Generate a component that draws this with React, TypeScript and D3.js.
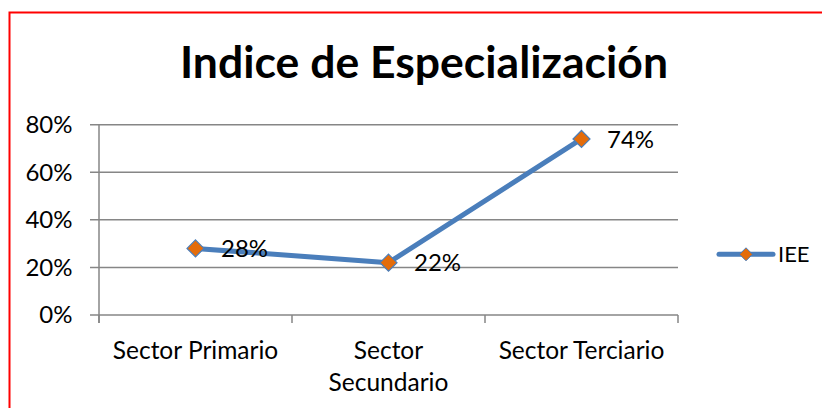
import React from "react";
import * as d3 from "d3";

const title = "Indice de Especialización";
const categories = ["Sector Primario", "Sector Secundario", "Sector Terciario"];
const categoryLines = [["Sector Primario"], ["Sector", "Secundario"], ["Sector Terciario"]];
const seriesName = "IEE";
const values = [0.28, 0.22, 0.74];
const yTicks = [0, 0.2, 0.4, 0.6, 0.8];

const W = 822;
const H = 408;
const FONT = "Lato, 'Noto Sans', sans-serif";
const BLUE = "#4A7EBB";
const ORANGE = "#E46C0A";
const GRID = "#868686";

export default function App() {
  const x = d3.scaleBand<string>().domain(categories).range([99, 678]).padding(0);
  const y = d3.scaleLinear().domain([0, 0.8]).range([315, 124.7]);
  const fmt = d3.format(".0%");
  const cx = (c: string) => (x(c) as number) + x.bandwidth() / 2;
  const line = d3
    .line<number>()
    .x((_, i) => cx(categories[i]))
    .y((v) => y(v));
  const diamond = (px: number, py: number, r: number) =>
    `M${px},${py - r}L${px + r},${py}L${px},${py + r}L${px - r},${py}Z`;
  const xTicks = [...categories.map((c) => x(c) as number), 678];

  return (
    <svg
      width={W}
      height={H}
      style={{ position: "absolute", left: 0, top: 0, background: "#fff" }}
      fontFamily={FONT}
    >
      <rect x={0} y={0} width={W} height={H} fill="#fff" />
      <rect x={9.5} y={12.5} width={W + 10} height={H + 10} fill="none" stroke="#FF0000" strokeWidth={2} />
      <text x={424} y={77.7} textAnchor="middle" fontSize={44.5} fontWeight={700} fill="#000">
        {title}
      </text>
      {yTicks.map((t) => (
        <g key={t}>
          <line x1={90} x2={678} y1={y(t)} y2={y(t)} stroke={GRID} strokeWidth={1.5} />
          <text x={72.5} y={y(t) + 8.3} textAnchor="end" fontSize={24} fill="#000">
            {fmt(t)}
          </text>
        </g>
      ))}
      <line x1={99} x2={99} y1={124.7} y2={323} stroke={GRID} strokeWidth={1.5} />
      {xTicks.map((t, i) => (
        <line key={i} x1={t} x2={t} y1={315} y2={323} stroke={GRID} strokeWidth={1.5} />
      ))}
      {categoryLines.map((lines, i) =>
        lines.map((l, j) => (
          <text
            key={`${i}-${j}`}
            x={cx(categories[i])}
            y={358.5 + j * 32.3}
            textAnchor="middle"
            fontSize={24.5}
            fill="#000"
          >
            {l}
          </text>
        ))
      )}
      <path d={line(values) as string} fill="none" stroke={BLUE} strokeWidth={5} strokeLinejoin="round" />
      {values.map((v, i) => (
        <g key={i}>
          <path d={diamond(cx(categories[i]), y(v), 8.5)} fill={ORANGE} stroke={BLUE} strokeWidth={1.2} />
          <text x={cx(categories[i]) + 25.5} y={y(v) + 8.6} fontSize={24} fill="#000">
            {fmt(v)}
          </text>
        </g>
      ))}
      <line x1={719} x2={773} y1={254.3} y2={254.3} stroke={BLUE} strokeWidth={5} strokeLinecap="round" />
      <path d={diamond(746, 254.3, 6.5)} fill={ORANGE} stroke={BLUE} strokeWidth={1} />
      <text x={778} y={262} fontSize={22} fill="#000">
        {seriesName}
      </text>
    </svg>
  );
}
